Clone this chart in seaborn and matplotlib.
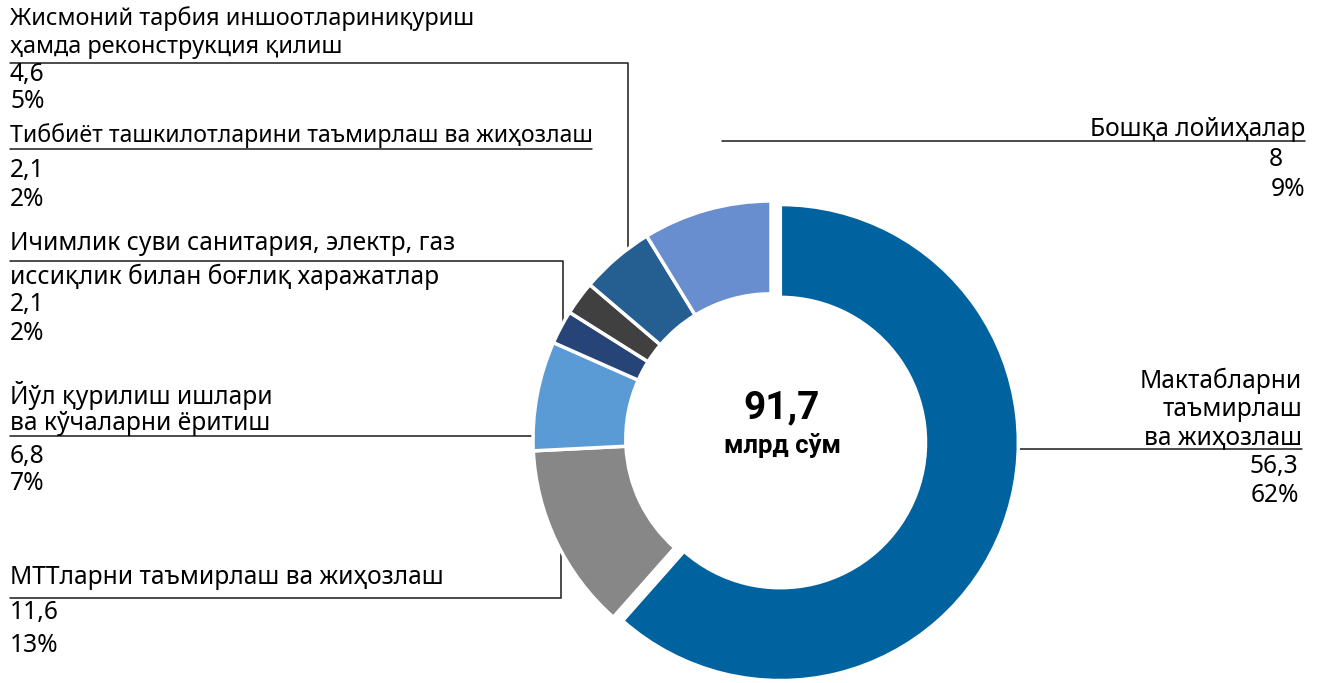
import numpy as np
import matplotlib
matplotlib.use("Agg")
import matplotlib.pyplot as plt
import seaborn as sns

# --- data -------------------------------------------------------------
categories = [
    "Мактабларни\nтаъмирлаш\nва жиҳозлаш",
    "МТТларни таъмирлаш ва жиҳозлаш",
    "Йўл қурилиш ишлари\nва кўчаларни ёритиш",
    "Ичимлик суви санитария, электр, газ\nиссиқлик билан боғлиқ харажатлар",
    "Тиббиёт ташкилотларини таъмирлаш ва жиҳозлаш",
    "Жисмоний тарбия иншоотлариниқуриш\nҳамда реконструкция қилиш",
    "Бошқа лойиҳалар",
]
values = [56.3, 11.6, 6.8, 2.1, 2.1, 4.6, 8]
percents = [62, 13, 7, 2, 2, 5, 9]
total_value = 91.7
total_unit = "млрд сўм"
colors = ["#0063A0", "#878787", "#5B9BD5", "#264478", "#404040", "#255E91", "#698ED0"]


def fmt(v):
    return f"{v:g}".replace(".", ",")


# --- figure -----------------------------------------------------------
sns.set_theme(style="white")
plt.rcParams["font.family"] = ["Noto Sans", "DejaVu Sans"]

W, H = 1321, 683
fig = plt.figure(figsize=(W / 100, H / 100), dpi=100)
fig.patch.set_facecolor("white")

# overlay in pixel units for labels and leader lines
ov = fig.add_axes([0, 0, 1, 1], zorder=0)
ov.set_xlim(0, W)
ov.set_ylim(H, 0)
ov.axis("off")

# donut geometry (pixels)
cx, cy, R = 771, 439, 238
hole = 0.61
pull = 10 / R  # the largest segment is pulled out slightly

ax = fig.add_axes([(cx - R) / W, (H - cy - R) / H, 2 * R / W, 2 * R / H], zorder=1)
ax.patch.set_alpha(0)
explode = [pull] + [0] * (len(values) - 1)
wedges, _ = ax.pie(
    values, colors=colors, startangle=90, counterclock=False, radius=1,
    explode=explode,
    wedgeprops=dict(width=1 - hole, edgecolor="white", linewidth=2.5),
)
ax.set_xlim(-1, 1)
ax.set_ylim(-1, 1)
ax.set_aspect("equal")
ax.axis("off")

# centre of the pulled-out segment, in pixels
mid = np.deg2rad((wedges[0].theta1 + wedges[0].theta2) / 2)
mcx = cx + pull * R * np.cos(mid)
mcy = cy - pull * R * np.sin(mid)

center_font = ["Roboto", "DejaVu Sans"]
ov.text(782, 408, fmt(total_value), ha="center", va="center",
        fontsize=28, fontweight="bold", color="black", family=center_font)
ov.text(782, 445, total_unit, ha="center", va="center",
        fontsize=18.5, fontweight="bold", color="black", family=center_font)


def outer_y(x, upper=True, c=(cx, cy)):
    d = np.sqrt(max(R ** 2 - (x - c[0]) ** 2, 0))
    return c[1] - d if upper else c[1] + d


def outer_x(y, left=True, c=(cx, cy)):
    d = np.sqrt(max(R ** 2 - (y - c[1]) ** 2, 0))
    return c[0] - d if left else c[0] + d


line_kw = dict(color="#1a1a1a", lw=1.1, zorder=0)
fs = 17.7
tkw = dict(color="black", va="center")

# Жисмоний тарбия
i = 5
l1, l2 = categories[i].split("\n")
ov.text(10, 19, l1, ha="left", fontsize=16.9, **tkw)
ov.text(10, 47, l2, ha="left", fontsize=16.9, **tkw)
ov.text(10, 74, fmt(values[i]), ha="left", fontsize=fs, **tkw)
ov.text(10, 102, f"{percents[i]}%", ha="left", fontsize=fs, **tkw)
ov.plot([10, 628, 628], [63, 63, outer_y(628)], **line_kw)

# Тиббиёт
i = 4
ov.text(10, 136, categories[i], ha="left", fontsize=16.65, **tkw)
ov.text(10, 171, fmt(values[i]), ha="left", fontsize=fs, **tkw)
ov.text(10, 199, f"{percents[i]}%", ha="left", fontsize=fs, **tkw)
ov.plot([10, 592], [149, 149], **line_kw)

# Ичимлик суви
i = 3
l1, l2 = categories[i].split("\n")
ov.text(10, 244, l1, ha="left", fontsize=fs, **tkw)
ov.text(10, 277, l2, ha="left", fontsize=fs, **tkw)
ov.text(10, 305, fmt(values[i]), ha="left", fontsize=fs, **tkw)
ov.text(10, 333, f"{percents[i]}%", ha="left", fontsize=fs, **tkw)
ov.plot([10, 563, 563], [261, 261, outer_y(563)], **line_kw)

# Йўл қурилиш
i = 2
l1, l2 = categories[i].split("\n")
ov.text(10, 396, l1, ha="left", fontsize=fs, **tkw)
ov.text(10, 424, l2, ha="left", fontsize=fs, **tkw)
ov.text(10, 456, fmt(values[i]), ha="left", fontsize=fs, **tkw)
ov.text(10, 484, f"{percents[i]}%", ha="left", fontsize=fs, **tkw)
ov.plot([10, outer_x(436)], [436, 436], **line_kw)

# МТТ
i = 1
ov.text(10, 578, categories[i], ha="left", fontsize=fs, **tkw)
ov.text(10, 613, fmt(values[i]), ha="left", fontsize=fs, **tkw)
ov.text(10, 645, f"{percents[i]}%", ha="left", fontsize=fs, **tkw)
ov.plot([10, 561, 561], [598, 598, outer_y(561, upper=False)], **line_kw)

# Бошқа лойиҳалар
i = 6
ov.text(1305, 130, categories[i], ha="right", fontsize=fs, **tkw)
ov.text(1283, 159, fmt(values[i]), ha="right", fontsize=fs, **tkw)
ov.text(1305, 190, f"{percents[i]}%", ha="right", fontsize=fs, **tkw)
ov.plot([722, 1305], [141, 141], **line_kw)

# Мактаблар
i = 0
for k, ln in enumerate(categories[i].split("\n")):
    ov.text(1302, 381 + 28.5 * k, ln, ha="right", fontsize=fs, **tkw)
ov.text(1298, 467, fmt(values[i]), ha="right", fontsize=fs, **tkw)
ov.text(1299, 495, f"{percents[i]}%", ha="right", fontsize=fs, **tkw)
ov.plot([outer_x(449, left=False, c=(mcx, mcy)), 1302], [449, 449], **line_kw)

fig.savefig("out.png", dpi=100, facecolor="white")
